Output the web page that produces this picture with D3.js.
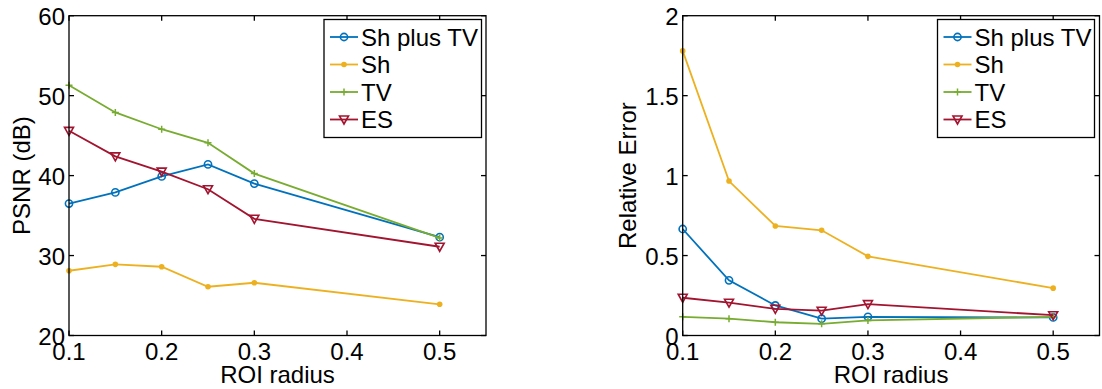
<!DOCTYPE html>
<html lang="en">
<head>
<meta charset="utf-8">
<title>ROI radius comparison</title>
<script src="https://cdn.jsdelivr.net/npm/d3@7/dist/d3.min.js"></script>
<style>
  * { margin: 0; padding: 0; }
  body { background: #fff; overflow: hidden; }
  svg { display: block; font-family: "Liberation Sans", Arial, sans-serif; }
</style>
</head>
<body>
<svg id="chart" width="1102" height="389"></svg>
<script>
const radius = [0.1, 0.15, 0.2, 0.25, 0.3, 0.5]
const seriesNames = ['Sh plus TV', 'Sh', 'TV', 'ES']
const seriesColors = ['#0072bd', '#edb120', '#77ac30', '#a2142f']
const seriesMarkers = ['circle', 'dot', 'plus', 'triangle']

const psnrShTV = [36.5, 37.9, 39.9, 41.4, 39.0, 32.3]
const psnrSh = [28.1, 28.9, 28.6, 26.1, 26.6, 23.9]
const psnrTV = [51.3, 47.9, 45.8, 44.1, 40.25, 32.2]
const psnrES = [45.6, 42.4, 40.5, 38.3, 34.6, 31.1]

const errShTV = [0.666, 0.345, 0.188, 0.105, 0.117, 0.113]
const errSh = [1.78, 0.966, 0.685, 0.658, 0.495, 0.296]
const errTV = [0.117, 0.105, 0.083, 0.073, 0.094, 0.117]
const errES = [0.236, 0.205, 0.167, 0.155, 0.196, 0.127]

const xTicks = [0.1, 0.2, 0.3, 0.4, 0.5]
const psnrTicks = [20, 30, 40, 50, 60]
const errTicks = [0, 0.5, 1, 1.5, 2]

const FS = 24
const svg = d3.select('#chart')

function drawMarker(g, type, x, y, color) {
  if (type === 'circle') {
    g.append('circle').attr('cx', x).attr('cy', y).attr('r', 3.6)
      .attr('fill', 'none').attr('stroke', color).attr('stroke-width', 1.6)
  } else if (type === 'dot') {
    g.append('circle').attr('cx', x).attr('cy', y).attr('r', 2.8).attr('fill', color)
  } else if (type === 'plus') {
    g.append('path').attr('d', `M${x - 3.5},${y}H${x + 3.5}M${x},${y - 3.5}V${y + 3.5}`)
      .attr('stroke', color).attr('stroke-width', 1.5)
  } else {
    g.append('path').attr('d', `M${x - 4.5},${y - 3.5}L${x + 4.5},${y - 3.5}L${x},${y + 4.5}Z`)
      .attr('fill', 'none').attr('stroke', color).attr('stroke-width', 1.6)
  }
}

function panel(opts) {
  const { left, right, top, bottom, yDomain, yTicks, yLabel, data, legend } = opts
  const x = d3.scaleLinear().domain([0.1, 0.55]).range([left, right])
  const y = d3.scaleLinear().domain(yDomain).range([bottom, top])
  const g = svg.append('g')

  // series lines + markers
  data.forEach((vals, i) => {
    const line = d3.line().x((d, j) => x(radius[j])).y(d => y(d))
    g.append('path').attr('d', line(vals)).attr('fill', 'none')
      .attr('stroke', seriesColors[i]).attr('stroke-width', 1.8)
    vals.forEach((v, j) => drawMarker(g, seriesMarkers[i], x(radius[j]), y(v), seriesColors[i]))
  })

  // box with inward ticks on all four sides
  const tl = 5
  const ax = g.append('g').attr('stroke', '#000').attr('stroke-width', 1.3)
  ax.append('rect').attr('x', left).attr('y', top).attr('width', right - left)
    .attr('height', bottom - top).attr('fill', 'none')
  xTicks.forEach(t => {
    ax.append('line').attr('x1', x(t)).attr('x2', x(t)).attr('y1', bottom).attr('y2', bottom - tl)
    ax.append('line').attr('x1', x(t)).attr('x2', x(t)).attr('y1', top).attr('y2', top + tl)
  })
  yTicks.forEach(t => {
    ax.append('line').attr('x1', left).attr('x2', left + tl).attr('y1', y(t)).attr('y2', y(t))
    ax.append('line').attr('x1', right).attr('x2', right - tl).attr('y1', y(t)).attr('y2', y(t))
  })

  const txt = g.append('g').attr('fill', '#000').attr('font-size', FS)
  xTicks.forEach(t => {
    txt.append('text').attr('x', x(t)).attr('y', bottom + 24.5).attr('text-anchor', 'middle').text(t)
  })
  yTicks.forEach(t => {
    txt.append('text').attr('x', left - 4).attr('y', y(t) + 9).attr('text-anchor', 'end').text(t)
  })
  txt.append('text').attr('x', (left + right) / 2).attr('y', bottom + 47)
    .attr('text-anchor', 'middle').text('ROI radius')
  txt.append('text').attr('transform', `translate(${opts.yLabelX},${(top + bottom) / 2}) rotate(-90)`)
    .attr('text-anchor', 'middle').text(yLabel)

  // legend
  const lg = g.append('g')
  lg.append('rect').attr('x', legend.x).attr('y', legend.y).attr('width', legend.w).attr('height', 118)
    .attr('fill', '#fff').attr('stroke', '#000').attr('stroke-width', 1.3)
  seriesNames.forEach((name, i) => {
    const yy = legend.y + 17.5 + i * 27.5
    const x0 = legend.x + 6
    lg.append('line').attr('x1', x0).attr('x2', x0 + 28).attr('y1', yy).attr('y2', yy)
      .attr('stroke', seriesColors[i]).attr('stroke-width', 1.8)
    drawMarker(lg, seriesMarkers[i], x0 + 14, yy, seriesColors[i])
    lg.append('text').attr('x', x0 + 31).attr('y', yy + 8.5).attr('font-size', FS).text(name)
  })
}

panel({
  left: 69, right: 486, top: 15.7, bottom: 335.5,
  yDomain: [20, 60], yTicks: psnrTicks, yLabel: 'PSNR (dB)', yLabelX: 30,
  data: [psnrShTV, psnrSh, psnrTV, psnrES],
  legend: { x: 324, y: 19.5, w: 157.5 }
})

panel({
  left: 682.7, right: 1099.5, top: 15.7, bottom: 335.5,
  yDomain: [0, 2], yTicks: errTicks, yLabel: 'Relative Error', yLabelX: 636,
  data: [errShTV, errSh, errTV, errES],
  legend: { x: 937.5, y: 19.5, w: 157 }
})
</script>
</body>
</html>
